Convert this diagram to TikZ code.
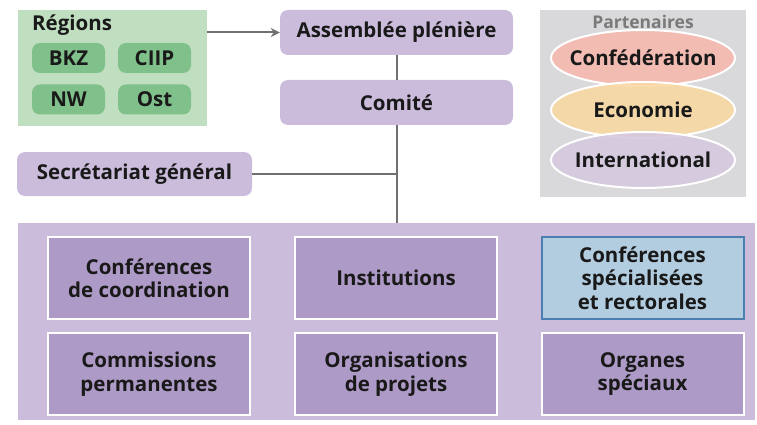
\documentclass[tikz,border=0pt]{standalone}
\usepackage{fontspec}
\setmainfont{Open Sans}
\usetikzlibrary{arrows.meta,shapes.geometric}
\definecolor{lilac}{HTML}{CBBCDC}
\definecolor{lilacdark}{HTML}{AE9AC6}
\definecolor{greenbg}{HTML}{C0DFC0}
\definecolor{greenpill}{HTML}{80C08A}
\definecolor{linegray}{HTML}{707070}
\definecolor{partbg}{HTML}{D9D9DB}
\definecolor{parttext}{HTML}{7A7A7A}
\definecolor{bluefill}{HTML}{B3CDE0}
\definecolor{blueline}{HTML}{4A7FB0}
\definecolor{conf}{HTML}{F6B8AE}
\definecolor{eco}{HTML}{FAD8A2}
\definecolor{intl}{HTML}{D5C8DF}
\tikzset{
  lbl/.style={font=\bfseries\fontsize{20.5}{23}\selectfont, text=black!90},
  topbox/.style={lbl, fill=lilac, rounded corners=8pt, minimum width=233pt, minimum height=45pt, inner sep=0pt},
  pill/.style={lbl, fill=greenpill, rounded corners=8pt, minimum width=73pt, minimum height=30pt, inner sep=0pt},
  innerbox/.style={lbl, fill=lilacdark, draw=white, line width=2pt, minimum width=202pt, minimum height=82pt, inner sep=0pt, align=center, font=\bfseries\fontsize{20.5}{23.5}\selectfont},
  ell/.style={ellipse, draw=white, line width=2pt, minimum width=184pt, minimum height=56pt, inner sep=0pt, fill opacity=0.88},
  conn/.style={draw=linegray, line width=2pt},
}
\begin{document}
\begin{tikzpicture}[x=1pt,y=-1pt]
\useasboundingbox (0,0) rectangle (757,425);
% regions
\node[fill=greenbg, minimum width=189pt, minimum height=116pt, inner sep=0pt] (regions) at (112.5,68) {};
\node[lbl, anchor=west, inner sep=0pt] (regtitle) at (32,25) {Régions};
\node[pill] (bkz) at (68.5,58) {BKZ};
\node[pill] (ciip) at (154.5,58) {CIIP};
\node[pill] (nw) at (68.5,99.5) {NW};
\node[pill] (ost) at (154.5,99.5) {Ost};
% top column
\node[topbox] (assemblee) at (396.5,32.5) {Assemblée plénière};
\node[topbox] (comite) at (396.5,102.5) {Comité};
\node[topbox, minimum width=235pt, minimum height=44pt] (secr) at (134.5,174) {Secrétariat général};
% partners
\node[fill=partbg, minimum width=206pt, minimum height=187pt, inner sep=0pt] (partbox) at (643,103.5) {};
\node[lbl, text=parttext, font=\bfseries\fontsize{17.5}{19}\selectfont, inner sep=0pt] (parttitle) at (643,22) {Partenaires};
\node[ell, fill=conf] (conf) at (643,58) {};
\node[ell, fill=eco] (eco) at (643,110) {};
\node[ell, fill=intl] (intl) at (643,160) {};
\node[lbl] at (conf) {Confédération};
\node[lbl] at (eco) {Economie};
\node[lbl] at (intl) {International};
% big box
\node[fill=lilac, minimum width=737pt, minimum height=197pt, inner sep=0pt] (big) at (386.5,321.5) {};
\node[innerbox] (cc) at (149,278) {Conférences\\de coordination};
\node[innerbox] (inst) at (396,278) {Institutions};
\node[innerbox, fill=bluefill, draw=blueline] (csr) at (642.5,278) {Conférences\\spécialisées\\et rectorales};
\node[innerbox] (cp) at (149,374) {Commissions\\permanentes};
\node[innerbox] (op) at (396,374) {Organisations\\de projets};
\node[innerbox] (os) at (642.5,374) {Organes\\spéciaux};
% connectors
\draw[conn, -{Stealth[length=9pt,width=9pt]}] (assemblee.west -| regions.east) -- (assemblee.west);
\draw[conn] (assemblee.south) -- (comite.north);
\draw[conn] (comite.south) -- (comite.south |- big.north);
\draw[conn] (secr.east) -- (secr.east -| comite.south);
\end{tikzpicture}
\end{document}
